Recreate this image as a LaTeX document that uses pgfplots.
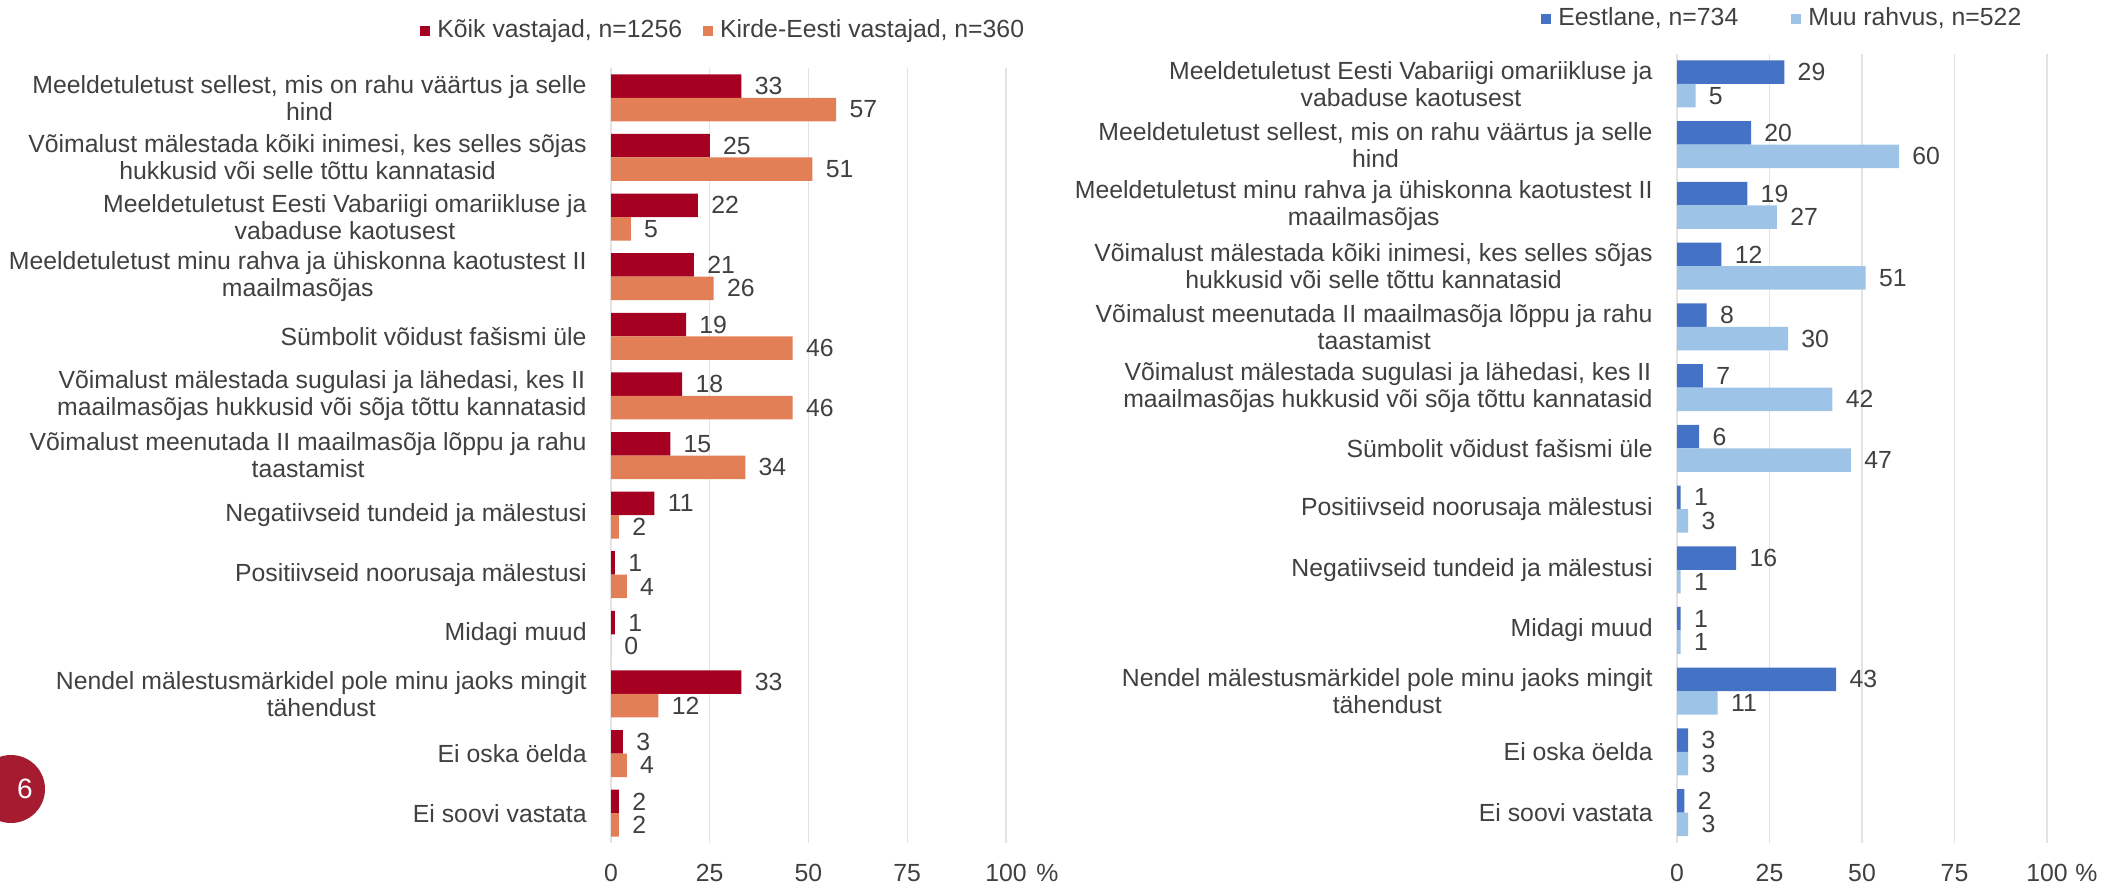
\documentclass[border=0pt]{standalone}
\usepackage{fontspec}
\setmainfont{Liberation Sans}
\usepackage{pgfplots}
\pgfplotsset{compat=1.18}
\definecolor{cRed}{HTML}{A50021}
\definecolor{cOrange}{HTML}{E27F56}
\definecolor{cBlue}{HTML}{4472C4}
\definecolor{cLight}{HTML}{9DC3E6}
\definecolor{txt}{HTML}{404040}
\definecolor{gridc}{HTML}{E3E3E3}
\definecolor{badge}{HTML}{A51C30}
\newcommand{\lblfont}{\fontsize{12.4}{13.5}\selectfont}
\pgfplotsset{
  mybar/.style={
    xbar, scale only axis, anchor=south west, clip=false,
    xmin=0, xmax=100, ymin=-0.5, ymax=12.5,
    xtick={0,25,50,75,100}, xticklabels={0,25,50,75,100},
    ytick={0,...,12},
    axis line style={draw=none},
    major tick length=0pt,
    xmajorgrids, major grid style={draw=gridc, line width=0.7pt},
    bar width=11.75pt,
    font=\lblfont,
    ticklabel style={text=txt, font=\lblfont},
    xticklabel style={anchor=center, yshift=-15pt, inner sep=0pt},
    yticklabel style={anchor=east, align=center, inner sep=0pt, xshift=-12pt},
    nodes near coords,
    every node near coord/.append style={anchor=west, inner sep=0pt, xshift=6.5pt, text=txt, font=\lblfont},
    /pgf/number format/assume math mode=true,
    legend columns=2,
    legend image code/.code={\fill[##1] (0pt,-3pt) rectangle (5pt,2pt);},
    legend style={draw=none, fill=none, inner sep=0pt, anchor=west, font=\lblfont, text=txt,
      nodes={inner sep=0pt},
      /tikz/every odd column/.append style={column sep=3.5pt}},
  }
}
\begin{document}
\begin{tikzpicture}
\useasboundingbox (0,0) rectangle (1057pt,442.5pt);
\begin{pgfinterruptboundingbox}
\fill[badge] (5.5pt,48pt) circle (17pt);
\node[text=white, font=\fontsize{14}{14}\selectfont] at (12.5pt,48pt) {6};
% Left chart
\begin{axis}[mybar,
  at={(305.5pt,21pt)}, width=197.5pt, height=387.5pt,
  yticklabels={{Ei soovi vastata},{Ei oska öelda},{Nendel mälestusmärkidel pole minu jaoks mingit\\tähendust},{Midagi muud},{Positiivseid noorusaja mälestusi},{Negatiivseid tundeid ja mälestusi},{Võimalust meenutada II maailmasõja lõppu ja rahu\\taastamist},{Võimalust mälestada sugulasi ja lähedasi, kes II\\maailmasõjas hukkusid või sõja tõttu kannatasid},{Sümbolit võidust fašismi üle},{Meeldetuletust minu rahva ja ühiskonna kaotustest II\\maailmasõjas},{Meeldetuletust Eesti Vabariigi omariikluse ja\\vabaduse kaotusest},{Võimalust mälestada kõiki inimesi, kes selles sõjas\\hukkusid või selle tõttu kannatasid},{Meeldetuletust sellest, mis on rahu väärtus ja selle\\hind}},
  legend style={at={(axis description cs:-0.4835,1.049)}, /tikz/every even column/.append style={column sep=10.5pt}},
]
\addplot[fill=cRed, draw=none, bar shift=5.875pt] coordinates {
(33,12) (25,11) (22,10) (21,9) (19,8) (18,7) (15,6) (11,5) (1,4) (1,3) (33,2) (3,1) (2,0)};
\addplot[fill=cOrange, draw=none, bar shift=-5.875pt] coordinates {
(57,12) (51,11) (5,10) (26,9) (46,8) (46,7) (34,6) (2,5) (4,4) (0,3) (12,2) (4,1) (2,0)};
\legend{{Kõik vastajad, n=1256},{Kirde-Eesti vastajad, n=360}}
\node[anchor=west, inner sep=0pt, text=txt, font=\lblfont, xshift=15pt, yshift=-15pt] at (rel axis cs:1,0) {\%};
\end{axis}
% Right chart
\begin{axis}[mybar,
  at={(838.5pt,21pt)}, width=185pt, height=394.7pt,
  yticklabels={{Ei soovi vastata},{Ei oska öelda},{Nendel mälestusmärkidel pole minu jaoks mingit\\tähendust},{Midagi muud},{Negatiivseid tundeid ja mälestusi},{Positiivseid noorusaja mälestusi},{Sümbolit võidust fašismi üle},{Võimalust mälestada sugulasi ja lähedasi, kes II\\maailmasõjas hukkusid või sõja tõttu kannatasid},{Võimalust meenutada II maailmasõja lõppu ja rahu\\taastamist},{Võimalust mälestada kõiki inimesi, kes selles sõjas\\hukkusid või selle tõttu kannatasid},{Meeldetuletust minu rahva ja ühiskonna kaotustest II\\maailmasõjas},{Meeldetuletust sellest, mis on rahu väärtus ja selle\\hind},{Meeldetuletust Eesti Vabariigi omariikluse ja\\vabaduse kaotusest}},
  legend style={at={(axis description cs:-0.3676,1.0451)}, /tikz/every even column/.append style={column sep=26.5pt}},
]
\addplot[fill=cBlue, draw=none, bar shift=5.875pt] coordinates {
(29,12) (20,11) (19,10) (12,9) (8,8) (7,7) (6,6) (1,5) (16,4) (1,3) (43,2) (3,1) (2,0)};
\addplot[fill=cLight, draw=none, bar shift=-5.875pt] coordinates {
(5,12) (60,11) (27,10) (51,9) (30,8) (42,7) (47,6) (3,5) (1,4) (1,3) (11,2) (3,1) (3,0)};
\legend{{Eestlane, n=734},{Muu rahvus, n=522}}
\node[anchor=west, inner sep=0pt, text=txt, font=\lblfont, xshift=14pt, yshift=-15pt] at (rel axis cs:1,0) {\%};
\end{axis}
\end{pgfinterruptboundingbox}
\end{tikzpicture}
\end{document}
